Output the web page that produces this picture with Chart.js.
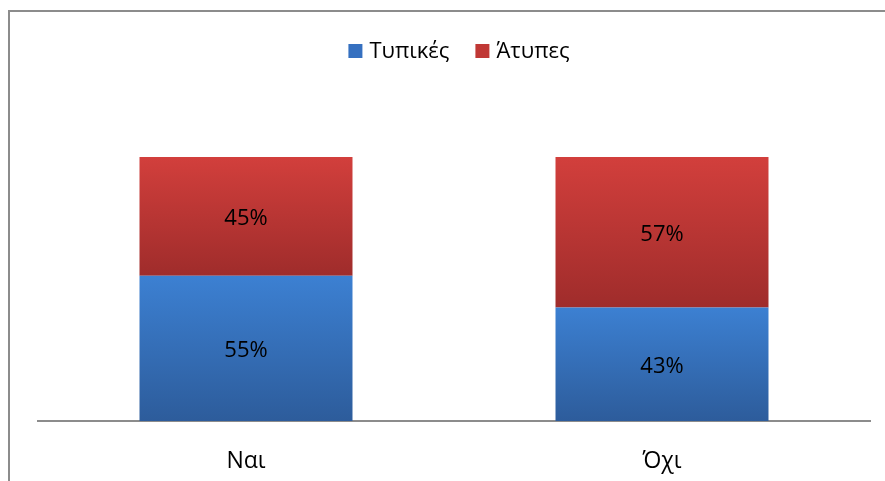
<!DOCTYPE html>
<html>
<head>
<meta charset="utf-8">
<script src="https://cdn.jsdelivr.net/npm/chart.js@4"></script>
<style>
  html, body { margin: 0; padding: 0; background: #fff; }
  #wrap { width: 885px; height: 481px; }
</style>
</head>
<body>
<div id="wrap"><canvas id="chart" width="885" height="481"></canvas></div>
<script>
const categories = ["Ναι", "Όχι"];
const typical = [55, 43];
const atypical = [45, 57];
const seriesNames = ["Τυπικές", "Άτυπες"];
const legendColors = ["#3570c0", "#c03835"];

const FONT = "'Open Sans', 'Noto Sans', sans-serif";

// vertical gradient per segment, like the Excel fill
function segmentFill(top, bottom, isTop) {
  return (ctx) => {
    const chart = ctx.chart;
    if (!chart.chartArea || ctx.type !== "data") return top;
    const y = chart.scales.y;
    const i = ctx.dataIndex;
    let y0, y1;
    if (isTop) {
      y0 = y.getPixelForValue(typical[i] + atypical[i]);
      y1 = y.getPixelForValue(typical[i]);
    } else {
      y0 = y.getPixelForValue(typical[i]);
      y1 = y.getPixelForValue(0);
    }
    const g = chart.ctx.createLinearGradient(0, y0, 0, y1);
    g.addColorStop(0, top);
    g.addColorStop(1, bottom);
    return g;
  };
}

// outer frame of the chart (cut off at right/bottom in the original)
const framePlugin = {
  id: "frame",
  beforeDraw(chart) {
    const c = chart.ctx;
    c.save();
    c.strokeStyle = "#8c8c8c";
    c.lineWidth = 2;
    c.strokeRect(9, 11, 1000, 1000);
    c.restore();
  }
};

// percentage labels in the middle of each segment
const labelPlugin = {
  id: "segLabels",
  afterDatasetsDraw(chart) {
    const c = chart.ctx;
    c.save();
    c.font = "22px " + FONT;
    c.fillStyle = "#000";
    c.textAlign = "center";
    c.textBaseline = "middle";
    chart.data.datasets.forEach((ds, di) => {
      chart.getDatasetMeta(di).data.forEach((bar, i) => {
        const p = bar.getProps(["x", "y", "base"], true);
        c.fillText(ds.data[i] + "%", p.x, (p.y + p.base) / 2 + 2);
      });
    });
    c.restore();
  }
};

// legend drawn by hand: small square, short gap, text
const legendPlugin = {
  id: "topLegend",
  afterDraw(chart) {
    const c = chart.ctx;
    c.save();
    c.font = "22px " + FONT;
    c.textBaseline = "middle";
    c.textAlign = "left";
    const box = 14, gap = 7, between = 26;
    const widths = seriesNames.map((s) => c.measureText(s).width);
    let total = 0;
    widths.forEach((w, i) => { total += box + gap + w + (i ? between : 0); });
    let x = 459 - total / 2;
    const cy = 51;
    seriesNames.forEach((s, i) => {
      c.fillStyle = legendColors[i];
      c.fillRect(x, cy - box / 2, box, box);
      c.fillStyle = "#000";
      c.fillText(s, x + box + gap, cy + 1);
      x += box + gap + widths[i] + between;
    });
    c.restore();
  }
};

new Chart(document.getElementById("chart"), {
  type: "bar",
  data: {
    labels: categories,
    datasets: [
      {
        label: seriesNames[0],
        data: typical,
        backgroundColor: segmentFill("#3c80d2", "#2d5c9b", false),
        categoryPercentage: 1,
        barPercentage: 0.512
      },
      {
        label: seriesNames[1],
        data: atypical,
        backgroundColor: segmentFill("#d23f3c", "#9f2c2b", true),
        categoryPercentage: 1,
        barPercentage: 0.512
      }
    ]
  },
  options: {
    responsive: false,
    animation: false,
    layout: { padding: { left: 38, right: 15, top: 157, bottom: 0 } },
    plugins: {
      legend: { display: false },
      tooltip: { enabled: false }
    },
    scales: {
      x: {
        stacked: true,
        grid: { display: false, drawTicks: false },
        border: { color: "#8c8c8c", width: 2 },
        ticks: { font: { family: FONT, size: 23 }, color: "#000", padding: 27 },
        afterFit(scale) { scale.height = 60; }
      },
      y: {
        stacked: true,
        display: false,
        min: 0,
        max: 100
      }
    }
  },
  plugins: [framePlugin, labelPlugin, legendPlugin]
});
</script>
</body>
</html>
